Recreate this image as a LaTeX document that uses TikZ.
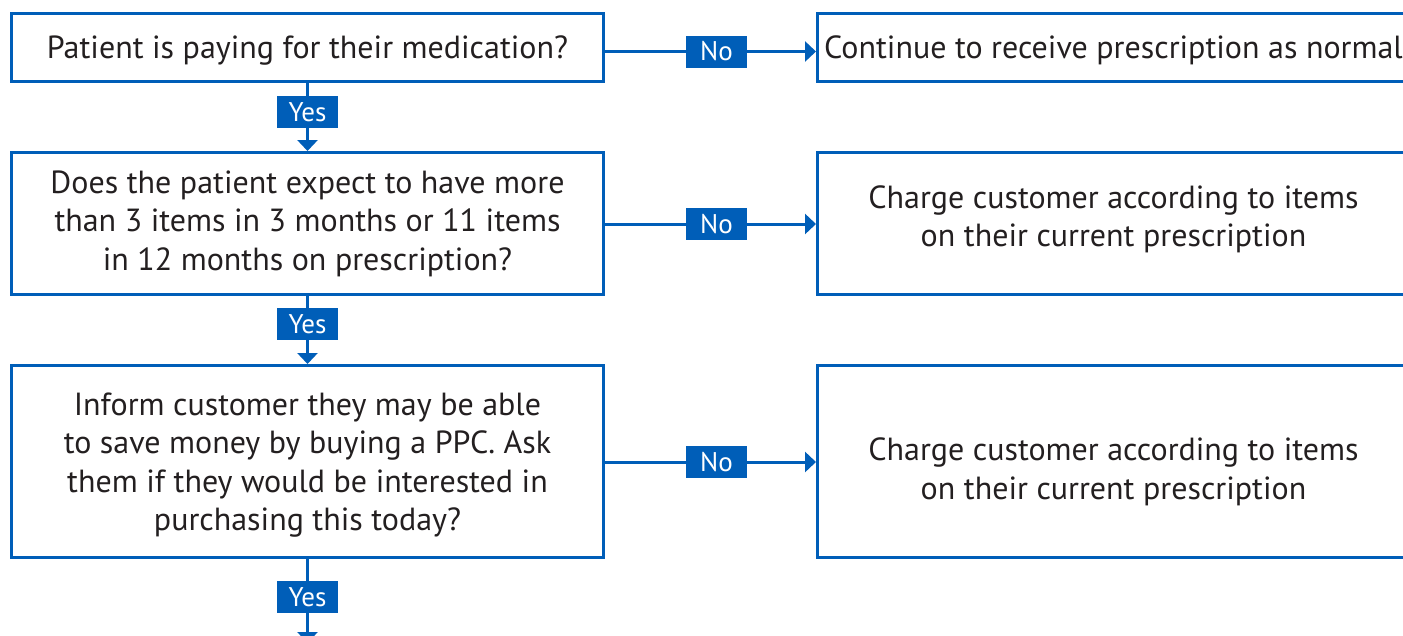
\documentclass[tikz,border=0pt]{standalone}
\usepackage{fontspec}
\setmainfont{PT Sans}
\usetikzlibrary{arrows.meta}
\definecolor{nhsblue}{HTML}{005EB8}
\definecolor{txt}{HTML}{231F20}
\begin{document}
\begin{tikzpicture}[x=1pt,y=-1pt,
  box/.style={draw=nhsblue, line width=3pt, minimum width=592pt, minimum height=#1, inner sep=0pt},
  txtnode/.style={align=center, text=txt, inner sep=0pt, font=\fontsize{32}{38.5}\selectfont},
  lbl/.style={fill=nhsblue, text=white, minimum width=61pt, minimum height=32pt, inner sep=0pt, font=\fontsize{27}{30}\selectfont},
  arr/.style={draw=nhsblue, line width=3pt, -{Triangle[width=20pt,length=11pt]}}]
\useasboundingbox (0,0) rectangle (1403,635);
\clip (0,0) rectangle (1403,635);
\node[box=68pt]  (b1) at (307.5,47.5)  {};
\node[box=142pt] (b2) at (307.5,223.5) {};
\node[box=192pt] (b3) at (307.5,461.5) {};
\node[box=68pt]  (r1) at (1113.5,47.5)  {};
\node[box=142pt] (r2) at (1113.5,223.5) {};
\node[box=192pt] (r3) at (1113.5,461.5) {};
\node[txtnode] (t1) at (307.5,50.5) {Patient is paying for their medication?};
\node[txtnode] (t2) at (307.5,223.5) {Does the patient expect to have more\\than 3 items in 3 months or 11 items\\in 12 months on prescription?};
\node[txtnode] (t3) at (307.5,465) {Inform customer they may be able\\to save money by buying a PPC. Ask\\them if they would be interested in\\purchasing this today?};
\node[txtnode] (s1) at (1113.5,50.5) {Continue to receive prescription as normal};
\node[txtnode] (s2) at (1113.5,219.5) {Charge customer according to items\\on their current prescription};
\node[txtnode] (s3) at (1113.5,472) {Charge customer according to items\\on their current prescription};
\coordinate (cn1) at (716.5,51.5);
\coordinate (cn2) at (716.5,224);
\coordinate (cn3) at (716.5,462);
\coordinate (cy1) at (307.5,112);
\coordinate (cy2) at (307.5,324);
\coordinate (cy3) at (307.5,597);
\coordinate (end) at (307.5,643);
\draw[arr] (b1.east |- cn1) -- (r1.west |- cn1);
\draw[arr] (b2.east |- cn2) -- (r2.west |- cn2);
\draw[arr] (b3.east |- cn3) -- (r3.west |- cn3);
\draw[arr] (b1) -- (b2);
\draw[arr] (b2) -- (b3);
\draw[arr] (b3) -- (end);
\node[lbl] (n1) at (cn1) {No};
\node[lbl] (n2) at (cn2) {No};
\node[lbl] (n3) at (cn3) {No};
\node[lbl] (y1) at (cy1) {Yes};
\node[lbl] (y2) at (cy2) {Yes};
\node[lbl] (y3) at (cy3) {Yes};
\end{tikzpicture}
\end{document}
